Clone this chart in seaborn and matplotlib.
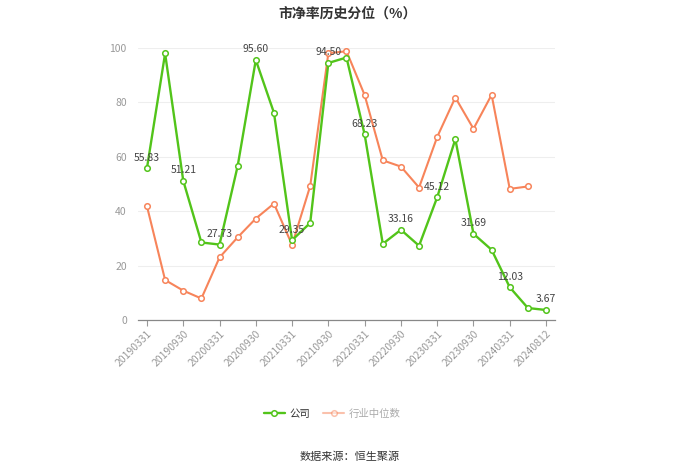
import matplotlib
matplotlib.use("Agg")
import matplotlib.pyplot as plt
import seaborn as sns
import pandas as pd
import numpy as np

dates = ["20190331", "20190630", "20190930", "20191231", "20200331", "20200630",
         "20200930", "20201231", "20210331", "20210630", "20210930", "20211231",
         "20220331", "20220630", "20220930", "20221231", "20230331", "20230630",
         "20230930", "20231231", "20240331", "20240630", "20240812"]
company = [55.83, 98.0, 51.21, 28.5, 27.73, 56.6, 95.60, 76.2, 29.35, 35.7,
           94.50, 96.5, 68.23, 28.0, 33.16, 27.3, 45.12, 66.5, 31.69, 25.8,
           12.03, 4.4, 3.67]
industry = [41.8, 14.7, 10.8, 7.9, 23.0, 30.4, 37.3, 42.8, 27.6, 49.3,
            98.1, 98.8, 82.7, 58.7, 56.4, 48.7, 67.3, 81.8, 70.3, 82.8,
            48.2, 49.1, None]

sns.set_theme(style="white")
plt.rcParams['font.family'] = ['Noto Sans CJK SC', 'DejaVu Sans']

green = "#52c41a"
orange = "#f7845a"

df = pd.DataFrame({"idx": np.arange(len(dates)), "date": dates,
                   "公司": company, "行业中位数": industry})

fig = plt.figure(figsize=(7.0, 4.73), dpi=100)
ax = fig.add_axes([0.197, 0.3235, 0.596, 0.575])

sns.lineplot(data=df, x="idx", y="行业中位数", ax=ax, color=orange, lw=1.5,
             marker="o", markersize=4, markerfacecolor="white",
             markeredgecolor=orange, markeredgewidth=1.1, label="行业中位数", zorder=3)
sns.lineplot(data=df, x="idx", y="公司", ax=ax, color=green, lw=1.7,
             marker="o", markersize=4, markerfacecolor="white",
             markeredgecolor=green, markeredgewidth=1.1, label="公司", zorder=4)

for i in range(0, len(dates), 2):
    ax.annotate(f"{company[i]:.2f}", (i, company[i]), xytext=(0, 4),
                textcoords="offset points", ha="center", va="bottom",
                fontsize=7.5, color="#444444", zorder=5)

ax.set_xlim(-0.5, len(dates) - 0.5)
ax.set_ylim(0, 100)
ax.set_yticks([0, 20, 40, 60, 80, 100])
ax.set_xticks(range(0, len(dates), 2))
ax.set_xticklabels(dates[::2], rotation=45, ha="right", rotation_mode="anchor")
ax.tick_params(axis="x", colors="#999999", labelsize=7.5, length=4, width=0.8,
               direction="out", bottom=True, pad=2)
ax.tick_params(axis="y", colors="#999999", labelsize=7.5, length=0, pad=8)
ax.set_xlabel("")
ax.set_ylabel("")
ax.grid(axis="y", color="#eeeeee", lw=0.8)
ax.set_axisbelow(True)
for s in ["top", "right", "left"]:
    ax.spines[s].set_visible(False)
ax.spines["bottom"].set_color("#888888")
ax.spines["bottom"].set_linewidth(0.9)

ax.get_legend().remove()
handles, labels = ax.get_legend_handles_labels()
order = [labels.index("公司"), labels.index("行业中位数")]
leg = fig.legend([handles[k] for k in order], [labels[k] for k in order],
                 loc="center", bbox_to_anchor=(0.475, 0.125), ncol=2, frameon=False,
                 fontsize=7.5, handlelength=2.0, columnspacing=1.2, handletextpad=0.5)
for t, c in zip(leg.get_texts(), ["#333333", "#aaaaaa"]):
    t.set_color(c)
leg.legend_handles[1].set_alpha(0.5)

fig.text(0.496, 0.972, "市净率历史分位（%）", ha="center", va="center",
         fontsize=10, fontweight="bold", color="#333333")
fig.text(0.5, 0.035, "数据来源：恒生聚源", ha="center", va="center",
         fontsize=8, color="#333333")

fig.savefig("out.png", dpi=100)
